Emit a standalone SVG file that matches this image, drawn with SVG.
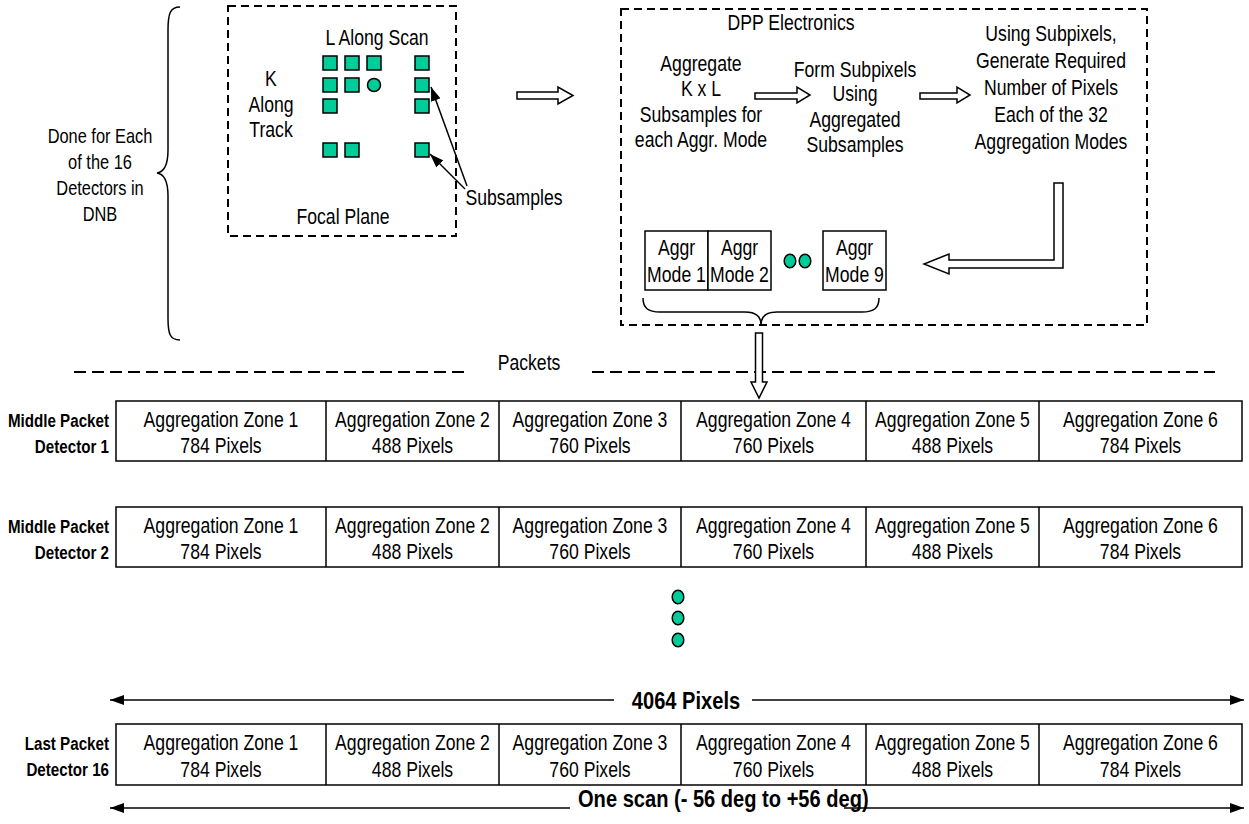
<svg xmlns="http://www.w3.org/2000/svg" width="1249" height="824" viewBox="0 0 1249 824">
<style>
text{font-family:"Liberation Sans Narrow","Arial Narrow","Liberation Sans",Arial,sans-serif;font-size:21.5px;fill:#000;text-anchor:middle}
.s{font-size:20px}
.lb{font-weight:bold;font-size:18.5px;text-anchor:end}
.bb{font-weight:bold;font-size:24.5px}
.st{text-anchor:start}
.dash{fill:none;stroke:#000;stroke-width:2;stroke-dasharray:8 5}
.pk{fill:none;stroke:#000;stroke-width:2;stroke-dasharray:12 6}
.box{fill:#fff;stroke:#000;stroke-width:1.5}
.sq{fill:#00CC99;stroke:#000;stroke-width:1.5}
.blk{fill:#fff;stroke:#000;stroke-width:1.5;stroke-linejoin:miter}
.ln{fill:none;stroke:#000;stroke-width:1.5}
</style>
<defs>
<marker id="ah" viewBox="0 0 14 10" refX="14" refY="5" markerWidth="14" markerHeight="10" markerUnits="userSpaceOnUse" orient="auto-start-reverse"><path d="M0,0 L14,5 L0,10 z" fill="#000"/></marker>
</defs>

<g id="detectors-note">
<path class="ln" d="M180,7 C170,7 168,14 168,30 L168,150 C168,166 164,172 157,173 C164,174 168,180 168,196 L168,318 C168,334 170,340 180,340"/>
<text class="s" transform="translate(100 143) scale(.82 1)">Done for Each</text>
<text class="s" transform="translate(100 169) scale(.82 1)">of the 16</text>
<text class="s" transform="translate(100 195) scale(.82 1)">Detectors in</text>
<text class="s" transform="translate(100 221) scale(.82 1)">DNB</text>
</g>

<g id="focal-plane">
<rect class="dash" x="228" y="6" width="228" height="230"/>
<text transform="translate(377 45) scale(.82 1)">L Along Scan</text>
<text transform="translate(271 86) scale(.82 1)">K</text>
<text transform="translate(271 112) scale(.82 1)">Along</text>
<text transform="translate(271 137) scale(.82 1)">Track</text>
<rect class="sq" x="323" y="56" width="14" height="14"/>
<rect class="sq" x="345" y="56" width="14" height="14"/>
<rect class="sq" x="367" y="56" width="14" height="14"/>
<rect class="sq" x="415" y="56" width="14" height="14"/>
<rect class="sq" x="323" y="78" width="14" height="14"/>
<rect class="sq" x="345" y="78" width="14" height="14"/>
<circle class="sq" cx="374" cy="85" r="6.5"/>
<rect class="sq" x="415" y="78" width="14" height="14"/>
<rect class="sq" x="323" y="99" width="14" height="14"/>
<rect class="sq" x="415" y="99" width="14" height="14"/>
<rect class="sq" x="323" y="143" width="14" height="14"/>
<rect class="sq" x="345" y="143" width="14" height="14"/>
<rect class="sq" x="415" y="143" width="14" height="14"/>
<text transform="translate(343 224) scale(.82 1)">Focal Plane</text>
</g>

<g id="subsamples-label">
<text transform="translate(514 205) scale(.82 1)">Subsamples</text>
</g>

<g id="dpp-electronics">
<rect class="dash" x="621" y="9" width="526" height="316"/>
<text transform="translate(791 30) scale(.82 1)">DPP Electronics</text>
<text transform="translate(701 71) scale(.82 1)">Aggregate</text>
<text transform="translate(701 96) scale(.82 1)">K x L</text>
<text transform="translate(701 122) scale(.82 1)">Subsamples for</text>
<text transform="translate(701 147) scale(.82 1)">each Aggr. Mode</text>
<text transform="translate(855 77) scale(.82 1)">Form Subpixels</text>
<text transform="translate(855 101) scale(.82 1)">Using</text>
<text transform="translate(855 127) scale(.82 1)">Aggregated</text>
<text transform="translate(855 152) scale(.82 1)">Subsamples</text>
<text transform="translate(1051 41) scale(.82 1)">Using Subpixels,</text>
<text transform="translate(1051 68) scale(.82 1)">Generate Required</text>
<text transform="translate(1051 95) scale(.82 1)">Number of Pixels</text>
<text transform="translate(1051 122) scale(.82 1)">Each of the 32</text>
<text transform="translate(1051 149) scale(.82 1)">Aggregation Modes</text>
</g>

<g id="aggr-modes">
<rect class="box" x="645" y="231" width="63" height="59"/>
<rect class="box" x="708" y="231" width="63" height="59"/>
<rect class="box" x="823" y="231" width="63" height="59"/>
<text transform="translate(676.5 255) scale(.82 1)">Aggr</text>
<text transform="translate(676.5 282) scale(.82 1)">Mode 1</text>
<text transform="translate(739.5 255) scale(.82 1)">Aggr</text>
<text transform="translate(739.5 282) scale(.82 1)">Mode 2</text>
<text transform="translate(854.5 255) scale(.82 1)">Aggr</text>
<text transform="translate(854.5 282) scale(.82 1)">Mode 9</text>
<ellipse class="sq" cx="790" cy="261" rx="5.8" ry="6.8"/>
<ellipse class="sq" cx="805" cy="261" rx="5.8" ry="6.8"/>
<path class="ln" d="M643,298 C643,308 648,312 660,312 L745,312 C755,312 761,316 761,325 C761,316 767,312 777,312 L862,312 C874,312 879,308 879,298"/>
</g>

<g id="packets-divider">
<line class="pk" x1="74" y1="372" x2="466" y2="372"/>
<text transform="translate(529 370) scale(.82 1)">Packets</text>
<line class="pk" x1="592" y1="372" x2="1215" y2="372"/>
</g>

<g id="row-detector-1">
<text class="lb" transform="translate(109 427) scale(.82 1)">Middle Packet</text>
<text class="lb" transform="translate(109 453) scale(.82 1)">Detector 1</text>
<rect class="box" x="116" y="401" width="1126" height="60"/>
<path class="ln" d="M326,401V461M499,401V461M681,401V461M866,401V461M1039,401V461"/>
<text transform="translate(221 427) scale(.82 1)">Aggregation Zone 1</text><text transform="translate(221 453) scale(.82 1)">784 Pixels</text>
<text transform="translate(412.5 427) scale(.82 1)">Aggregation Zone 2</text><text transform="translate(412.5 453) scale(.82 1)">488 Pixels</text>
<text transform="translate(590 427) scale(.82 1)">Aggregation Zone 3</text><text transform="translate(590 453) scale(.82 1)">760 Pixels</text>
<text transform="translate(773.5 427) scale(.82 1)">Aggregation Zone 4</text><text transform="translate(773.5 453) scale(.82 1)">760 Pixels</text>
<text transform="translate(952.5 427) scale(.82 1)">Aggregation Zone 5</text><text transform="translate(952.5 453) scale(.82 1)">488 Pixels</text>
<text transform="translate(1140.5 427) scale(.82 1)">Aggregation Zone 6</text><text transform="translate(1140.5 453) scale(.82 1)">784 Pixels</text>
</g>

<g id="row-detector-2">
<text class="lb" transform="translate(109 533) scale(.82 1)">Middle Packet</text>
<text class="lb" transform="translate(109 559) scale(.82 1)">Detector 2</text>
<rect class="box" x="116" y="507" width="1126" height="60"/>
<path class="ln" d="M326,507V567M499,507V567M681,507V567M866,507V567M1039,507V567"/>
<text transform="translate(221 533) scale(.82 1)">Aggregation Zone 1</text><text transform="translate(221 559) scale(.82 1)">784 Pixels</text>
<text transform="translate(412.5 533) scale(.82 1)">Aggregation Zone 2</text><text transform="translate(412.5 559) scale(.82 1)">488 Pixels</text>
<text transform="translate(590 533) scale(.82 1)">Aggregation Zone 3</text><text transform="translate(590 559) scale(.82 1)">760 Pixels</text>
<text transform="translate(773.5 533) scale(.82 1)">Aggregation Zone 4</text><text transform="translate(773.5 559) scale(.82 1)">760 Pixels</text>
<text transform="translate(952.5 533) scale(.82 1)">Aggregation Zone 5</text><text transform="translate(952.5 559) scale(.82 1)">488 Pixels</text>
<text transform="translate(1140.5 533) scale(.82 1)">Aggregation Zone 6</text><text transform="translate(1140.5 559) scale(.82 1)">784 Pixels</text>
</g>

<g id="ellipsis-dots">
<ellipse class="sq" cx="678" cy="597" rx="5.8" ry="6.8"/>
<ellipse class="sq" cx="678" cy="618" rx="5.8" ry="6.8"/>
<ellipse class="sq" cx="678" cy="640" rx="5.8" ry="6.8"/>
</g>

<g id="row-detector-16">
<text class="lb" transform="translate(109 750) scale(.82 1)">Last Packet</text>
<text class="lb" transform="translate(109 776) scale(.82 1)">Detector 16</text>
<rect class="box" x="116" y="724" width="1126" height="61"/>
<path class="ln" d="M326,724V785M499,724V785M681,724V785M866,724V785M1039,724V785"/>
<text transform="translate(221 750) scale(.82 1)">Aggregation Zone 1</text><text transform="translate(221 777) scale(.82 1)">784 Pixels</text>
<text transform="translate(412.5 750) scale(.82 1)">Aggregation Zone 2</text><text transform="translate(412.5 777) scale(.82 1)">488 Pixels</text>
<text transform="translate(590 750) scale(.82 1)">Aggregation Zone 3</text><text transform="translate(590 777) scale(.82 1)">760 Pixels</text>
<text transform="translate(773.5 750) scale(.82 1)">Aggregation Zone 4</text><text transform="translate(773.5 777) scale(.82 1)">760 Pixels</text>
<text transform="translate(952.5 750) scale(.82 1)">Aggregation Zone 5</text><text transform="translate(952.5 777) scale(.82 1)">488 Pixels</text>
<text transform="translate(1140.5 750) scale(.82 1)">Aggregation Zone 6</text><text transform="translate(1140.5 777) scale(.82 1)">784 Pixels</text>
</g>

<g id="dimensions">
<text class="bb" transform="translate(686 709) scale(.82 1)">4064 Pixels</text>
<text class="bb st" transform="translate(578 807) scale(.82 1)">One scan (- 56 deg to +56 deg)</text>
</g>

<g id="connectors">
<polygon class="blk" points="517,92 558,92 558,87 573,95.5 558,104 558,99 517,99"/>
<polygon class="blk" points="755,93 797,93 797,87 810,95 797,103 797,99 755,99"/>
<polygon class="blk" points="920,93 957,93 957,87 970,95 957,103 957,99 920,99"/>
<polygon class="blk" points="1054,183 1063,183 1063,268 949,268 949,274 924,264 949,254 949,260 1054,260"/>
<polygon class="blk" points="755.5,333 762.5,333 762.5,382 767,382 759,398 751,382 755.5,382"/>
<line class="ln" x1="467" y1="186" x2="431" y2="87" marker-end="url(#ah)"/>
<line class="ln" x1="465" y1="189" x2="430" y2="154" marker-end="url(#ah)"/>
<line class="ln" x1="110" y1="700" x2="614" y2="700" marker-start="url(#ah)"/>
<line class="ln" x1="752" y1="700" x2="1244" y2="700" marker-end="url(#ah)"/>
<line class="ln" x1="110" y1="808" x2="570" y2="808" marker-start="url(#ah)"/>
<line class="ln" x1="844" y1="808" x2="1244" y2="808" marker-end="url(#ah)"/>
</g>
</svg>
